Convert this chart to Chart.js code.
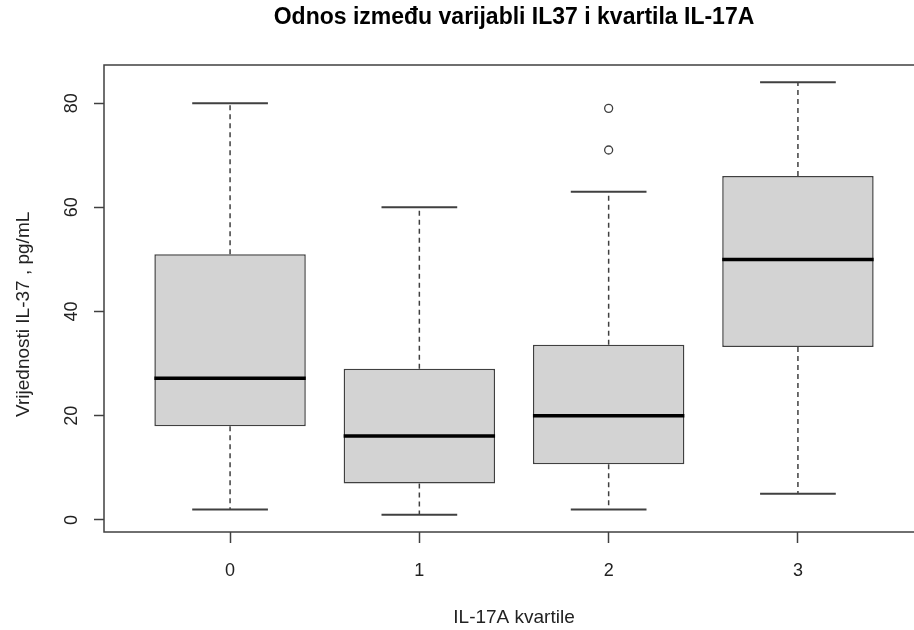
<!DOCTYPE html>
<html>
<head>
<meta charset="utf-8">
<script src="https://cdn.jsdelivr.net/npm/chart.js@4.4.1/dist/chart.umd.min.js"></script>
<style>
    html, body {
        margin: 0;
        padding: 0;
        background: #ffffff;
        overflow: hidden;
    }

    #wrap {
        width: 940px;
        height: 630px;
    }
</style>
</head>
<body>
<div id="wrap">
    <canvas id="boxChart" width="940" height="630"></canvas>
</div>
<script>

// IL-17A quartile groups
const groups = [0, 1, 2, 3];

// box plot statistics per group (pg/mL)
const lowerWhisker = [2, 1, 2, 5];
const q1 = [18, 7, 10.7, 33.2];
const median = [27.2, 16.1, 20, 50];
const q3 = [51, 29, 33.6, 66];
const upperWhisker = [80, 60, 63, 84];

// outliers (group, value)
const outlierGroup = [2, 2];
const outlierValue = [71, 79];

const yTicks = [0, 20, 40, 60, 80];

const FONT = "'Liberation Sans', Arial, sans-serif";
const LINE = "#404040";

const boxData =
    groups.map((g, i) => ({ x: g, y: [q1[i], q3[i]] }));

const outlierData =
    outlierGroup.map((g, i) => ({ x: g, y: outlierValue[i] }));

// whiskers, caps, medians and the frame round the plot
const boxPlotExtras = {

    id: "boxPlotExtras",

    beforeDatasetsDraw(chart) {

        const ctx = chart.ctx;
        const xs = chart.scales.x;
        const ys = chart.scales.y;

        ctx.save();
        ctx.strokeStyle = LINE;

        groups.forEach((g, i) => {

            const cx = xs.getPixelForValue(g);
            const capL = xs.getPixelForValue(g - 0.2);
            const capR = xs.getPixelForValue(g + 0.2);

            // dashed whiskers
            ctx.lineWidth = 1.5;
            ctx.setLineDash([5, 4]);
            ctx.beginPath();
            ctx.moveTo(cx, ys.getPixelForValue(q3[i]));
            ctx.lineTo(cx, ys.getPixelForValue(upperWhisker[i]));
            ctx.moveTo(cx, ys.getPixelForValue(q1[i]));
            ctx.lineTo(cx, ys.getPixelForValue(lowerWhisker[i]));
            ctx.stroke();

            // caps
            ctx.setLineDash([]);
            ctx.lineWidth = 2;
            ctx.beginPath();
            ctx.moveTo(capL, ys.getPixelForValue(upperWhisker[i]));
            ctx.lineTo(capR, ys.getPixelForValue(upperWhisker[i]));
            ctx.moveTo(capL, ys.getPixelForValue(lowerWhisker[i]));
            ctx.lineTo(capR, ys.getPixelForValue(lowerWhisker[i]));
            ctx.stroke();
        });

        ctx.restore();
    },

    afterDatasetsDraw(chart) {

        const ctx = chart.ctx;
        const xs = chart.scales.x;
        const ys = chart.scales.y;
        const area = chart.chartArea;

        ctx.save();

        // medians
        ctx.strokeStyle = "#000000";
        ctx.lineWidth = 3.5;

        groups.forEach((g, i) => {
            const y = ys.getPixelForValue(median[i]);
            ctx.beginPath();
            ctx.moveTo(xs.getPixelForValue(g - 0.4), y);
            ctx.lineTo(xs.getPixelForValue(g + 0.4), y);
            ctx.stroke();
        });

        // plot frame
        ctx.strokeStyle = LINE;
        ctx.lineWidth = 1.5;
        ctx.strokeRect(
            area.left,
            area.top,
            area.right - area.left,
            area.bottom - area.top
        );

        ctx.restore();
    }
};

new Chart(document.getElementById("boxChart"), {

    data: {
        datasets: [
            {
                type: "bar",
                label: "IL-37",
                data: boxData,
                backgroundColor: "#d3d3d3",
                borderColor: LINE,
                borderWidth: 1.5,
                borderSkipped: false,
                categoryPercentage: 1,
                barPercentage: 0.8,
                order: 2
            },
            {
                type: "scatter",
                label: "outliers",
                data: outlierData,
                pointStyle: "circle",
                pointRadius: 4,
                pointBorderWidth: 1.3,
                pointBorderColor: LINE,
                pointBackgroundColor: "rgba(0,0,0,0)",
                order: 1
            }
        ]
    },

    options: {
        responsive: false,
        animation: false,
        layout: {
            padding: { left: 0, right: 16, top: 0, bottom: 0 }
        },
        plugins: {
            legend: { display: false },
            tooltip: { enabled: false },
            title: {
                display: true,
                fullSize: false,
                text: "Odnos između varijabli IL37 i kvartila IL-17A",
                color: "#000000",
                font: { family: FONT, size: 23, weight: "bold" },
                padding: { top: 4, bottom: 33.4 }
            }
        },
        scales: {
            x: {
                type: "linear",
                position: "bottom",
                offset: false,
                min: -0.666,
                max: 3.666,
                afterBuildTicks(scale) {
                    scale.ticks = groups.map(v => ({ value: v }));
                },
                afterFit(scale) {
                    scale.height = 98;
                },
                grid: {
                    offset: false,
                    drawOnChartArea: false,
                    drawTicks: true,
                    tickLength: 11,
                    tickColor: LINE,
                    tickWidth: 1.5
                },
                border: { display: false },
                ticks: {
                    color: "#222222",
                    padding: 17,
                    font: { family: FONT, size: 18 }
                },
                title: {
                    display: true,
                    text: "IL-17A kvartile",
                    color: "#222222",
                    font: { family: FONT, size: 19 },
                    padding: { top: 0, bottom: 1 }
                }
            },
            y: {
                min: -2.32,
                max: 87.32,
                afterBuildTicks(scale) {
                    scale.ticks = yTicks.map(v => ({ value: v }));
                },
                afterFit(scale) {
                    scale.width = 104;
                },
                grid: {
                    drawOnChartArea: false,
                    drawTicks: true,
                    tickLength: 10,
                    tickColor: LINE,
                    tickWidth: 1.5
                },
                border: { display: false },
                ticks: {
                    color: "#222222",
                    minRotation: 90,
                    maxRotation: 90,
                    crossAlign: "center",
                    padding: 12,
                    font: { family: FONT, size: 18 }
                },
                title: {
                    display: true,
                    // trailing spaces push the centred text down a little, as in the original
                    text: "Vrijednosti IL-37 , pg/mL      ",
                    color: "#222222",
                    font: { family: FONT, size: 19 },
                    padding: { top: 12, bottom: 0 }
                }
            }
        }
    },

    plugins: [boxPlotExtras]
});
</script>
</body>
</html>
